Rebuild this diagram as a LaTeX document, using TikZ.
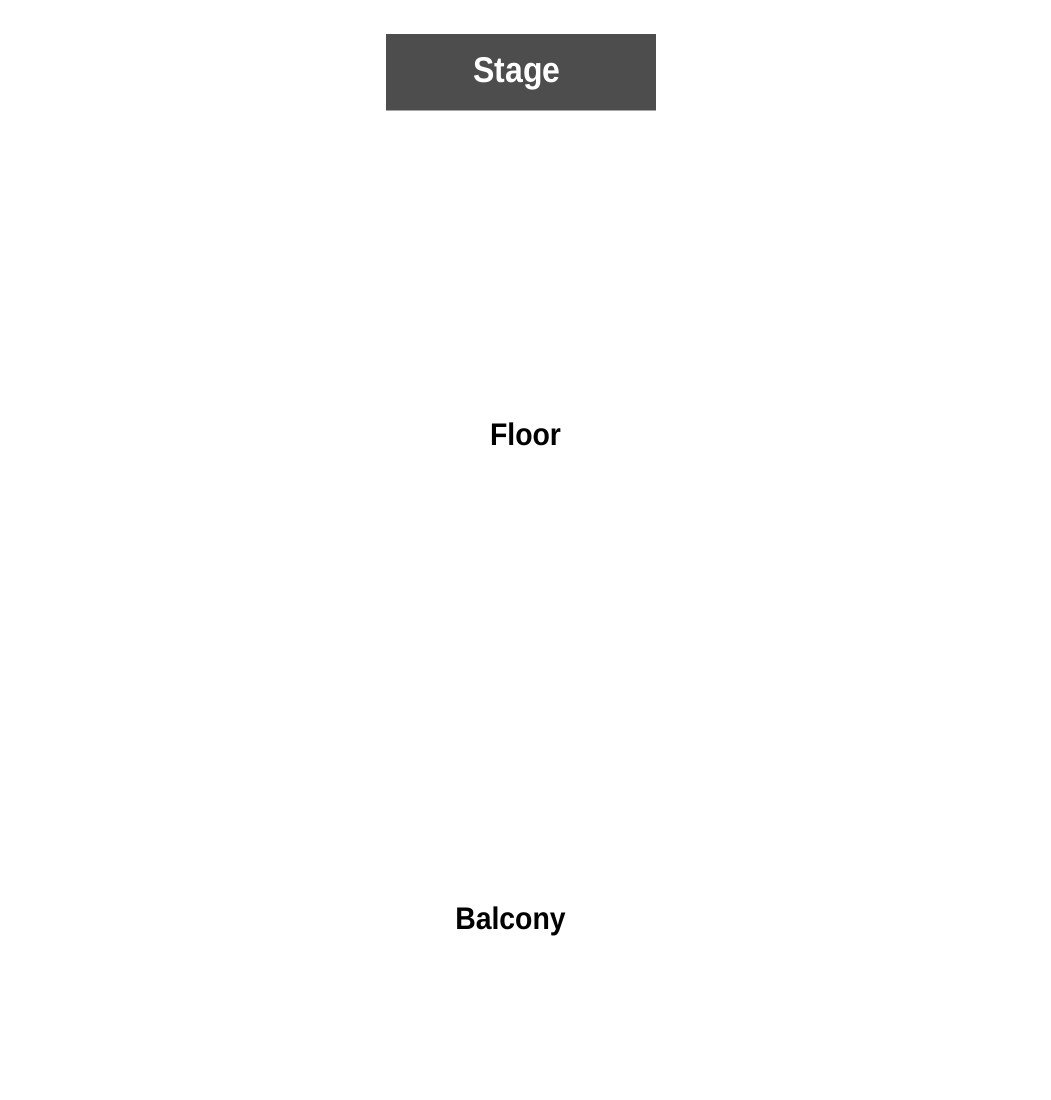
\documentclass[tikz,border=0pt]{standalone}
\usepackage{fontspec}
\setmainfont{Liberation Sans}
\usetikzlibrary{positioning}
\definecolor{stagegray}{RGB}{77,77,77}
\tikzset{
	every node/.style={
		font=\bfseries
	},
	stage/.style={
		shape=rectangle,
		fill=stagegray,
		minimum width=270pt,
		minimum height=76pt,
		inner sep=0pt
	},
	stagelabel/.style={
		text=white,
		font=\fontsize{32}{38}\selectfont\bfseries,
		anchor=base,
		yscale=1.12
	},
	area/.style={
		text=black,
		font=\fontsize{28.4}{34}\selectfont\bfseries,
		anchor=base,
		yscale=1.1
	}
}
\begin{document}
\begin{tikzpicture}[x=1pt,y=-1pt]
	
	\useasboundingbox (0,0) rectangle (1050,1100);
	
	% stage
	\node[stage] (stage) at (521,72) {};
	\draw[gray!70, line width=1pt] (stage.south west) -- (stage.south east);
	\node[stagelabel] (stagetext) at (517,82) {Stage};
	
	% seating
	\node[area] (floor) at (525.5,445) {Floor};
	\node[area] (balcony) at (510.5,929) {Balcony};
	
\end{tikzpicture}
\end{document}
